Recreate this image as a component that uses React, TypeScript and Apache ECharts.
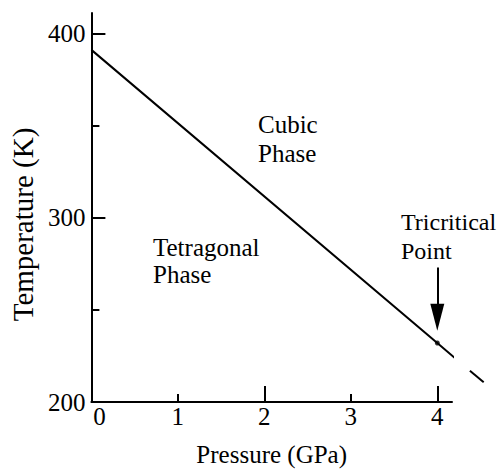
import React, { useEffect, useRef } from "react";
import * as echarts from "echarts";

// Phase boundary
const boundaryP = [0, 4, 4.2];
const boundaryT = [391, 232, 224];
const extensionP = [4.2, 4.7];
const extensionT = [224, 204];
const tricriticalP = [4];
const tricriticalT = [232];
const arrowP = [4, 4];
const arrowT = [273, 246];

const xLabelValues = [0, 1, 2, 3, 4];
const xMinorTicks = [1, 3];
const xMajorTicks = [2, 4];
const yLabelValues = [200, 300, 400];
const yMinorTicks = [250, 350];
const yMajorTicks = [300, 400];

const FONT = "'Liberation Serif', 'Times New Roman', serif";
const W = 499;
const H = 472;
const GRID_LEFT = 87;
const GRID_RIGHT = 47;
const GRID_TOP = 13;
const GRID_BOTTOM = 70;
const X_MAX = 4.17;
const Y_MIN = 200;
const Y_MAX = 411;
// second (invisible) grid reaching the right edge, same scale, for the dashed extension
const X2_MAX = (X_MAX * (W - GRID_LEFT)) / (W - GRID_LEFT - GRID_RIGHT);

export default function App() {
  const ref = useRef<HTMLDivElement>(null);
  useEffect(() => {
    if (!ref.current) return;
    const chart = echarts.init(ref.current, null, { renderer: "svg" });
    const solid = boundaryP.map((p, i) => [p, boundaryT[i]]);
    const dashed = extensionP.map((p, i) => [p, extensionT[i]]);
    const dot = tricriticalP.map((p, i) => [p, tricriticalT[i]]);
    const axisLine = { show: true, lineStyle: { color: "#000", width: 2 } };
    const hidden = {
      axisLine: { show: false },
      axisTick: { show: false },
      axisLabel: { show: false },
      splitLine: { show: false },
    };
    const txt = (size: number) => ({ fill: "#000", font: `${size}px ${FONT}`, fontFamily: FONT, fontSize: size });
    chart.setOption({
      animation: false,
      backgroundColor: "#fff",
      grid: [
        { left: GRID_LEFT, top: GRID_TOP, right: GRID_RIGHT, bottom: GRID_BOTTOM, containLabel: false },
        { left: GRID_LEFT, top: GRID_TOP, right: 0, bottom: GRID_BOTTOM, containLabel: false },
      ],
      xAxis: [
        {
          type: "value",
          gridIndex: 0,
          min: 0,
          max: X_MAX,
          position: "bottom",
          axisLine,
          splitLine: { show: false },
          axisTick: { show: true, inside: true, length: 8, customValues: xMinorTicks, lineStyle: { color: "#000", width: 2 } },
          axisLabel: {
            customValues: xLabelValues,
            margin: 2,
            color: "#000",
            fontFamily: FONT,
            fontSize: 25,
            formatter: (v: number) => (v === 0 ? "{z|0}" : String(v)),
            rich: { z: { padding: [0, 0, 0, 16], fontFamily: FONT, fontSize: 25, color: "#000" } },
          },
          name: "Pressure (GPa)",
          nameLocation: "middle",
          nameGap: 40,
          nameTextStyle: { color: "#000", fontFamily: FONT, fontSize: 25 },
        },
        {
          type: "value",
          gridIndex: 0,
          min: 0,
          max: X_MAX,
          position: "bottom",
          axisLine: { show: false },
          splitLine: { show: false },
          axisTick: { show: true, inside: true, length: 16, customValues: xMajorTicks, lineStyle: { color: "#000", width: 2 } },
          axisLabel: { show: false },
        },
        { type: "value", gridIndex: 1, min: 0, max: X2_MAX, position: "bottom", ...hidden },
      ],
      yAxis: [
        {
          type: "value",
          gridIndex: 0,
          min: Y_MIN,
          max: Y_MAX,
          position: "left",
          axisLine,
          splitLine: { show: false },
          axisTick: { show: true, inside: true, length: 8, customValues: yMinorTicks, lineStyle: { color: "#000", width: 2 } },
          axisLabel: { customValues: yLabelValues, margin: 6, color: "#000", fontFamily: FONT, fontSize: 25 },
          name: "Temperature (K)",
          nameLocation: "middle",
          nameGap: 47,
          nameTextStyle: { color: "#000", fontFamily: FONT, fontSize: 29, padding: [0, 34, 0, 0] },
        },
        {
          type: "value",
          gridIndex: 0,
          min: Y_MIN,
          max: Y_MAX,
          position: "left",
          axisLine: { show: false },
          splitLine: { show: false },
          axisTick: { show: true, inside: true, length: 14, customValues: yMajorTicks, lineStyle: { color: "#000", width: 2 } },
          axisLabel: { show: false },
        },
        { type: "value", gridIndex: 1, min: Y_MIN, max: Y_MAX, position: "left", ...hidden },
      ],
      series: [
        {
          type: "line",
          xAxisIndex: 0,
          yAxisIndex: 0,
          data: solid,
          showSymbol: false,
          clip: false,
          lineStyle: { color: "#000", width: 2 },
          silent: true,
          markLine: {
            silent: true,
            symbol: ["none", "triangle"],
            symbolSize: [14, 27],
            label: { show: false },
            lineStyle: { color: "#000", width: 2, type: "solid" },
            itemStyle: { color: "#000" },
            data: [[{ coord: [arrowP[0], arrowT[0]] }, { coord: [arrowP[1], arrowT[1]] }]],
          },
        },
        {
          type: "line",
          xAxisIndex: 2,
          yAxisIndex: 2,
          data: dashed,
          showSymbol: false,
          clip: false,
          lineStyle: { color: "#000", width: 2, type: [18, 20], dashOffset: 18 },
          silent: true,
        },
        {
          type: "scatter",
          xAxisIndex: 0,
          yAxisIndex: 0,
          data: dot,
          symbolSize: 5,
          itemStyle: { color: "#000" },
          silent: true,
        },
      ],
      graphic: [
        { type: "text", x: 258, y: 110, style: { text: "Cubic\nPhase", ...txt(25), lineHeight: 29, verticalAlign: "top" } },
        { type: "text", x: 153, y: 234, style: { text: "Tetragonal\nPhase", ...txt(25), lineHeight: 27, verticalAlign: "top" } },
        { type: "text", x: 401, y: 207, style: { text: "Tricritical\nPoint", ...txt(24), lineHeight: 29, verticalAlign: "top" } },
      ],
    });
    return () => chart.dispose();
  }, []);
  return (
    <div
      ref={ref}
      style={{ position: "fixed", left: 0, top: 0, width: W, height: H, background: "#fff" }}
    />
  );
}
